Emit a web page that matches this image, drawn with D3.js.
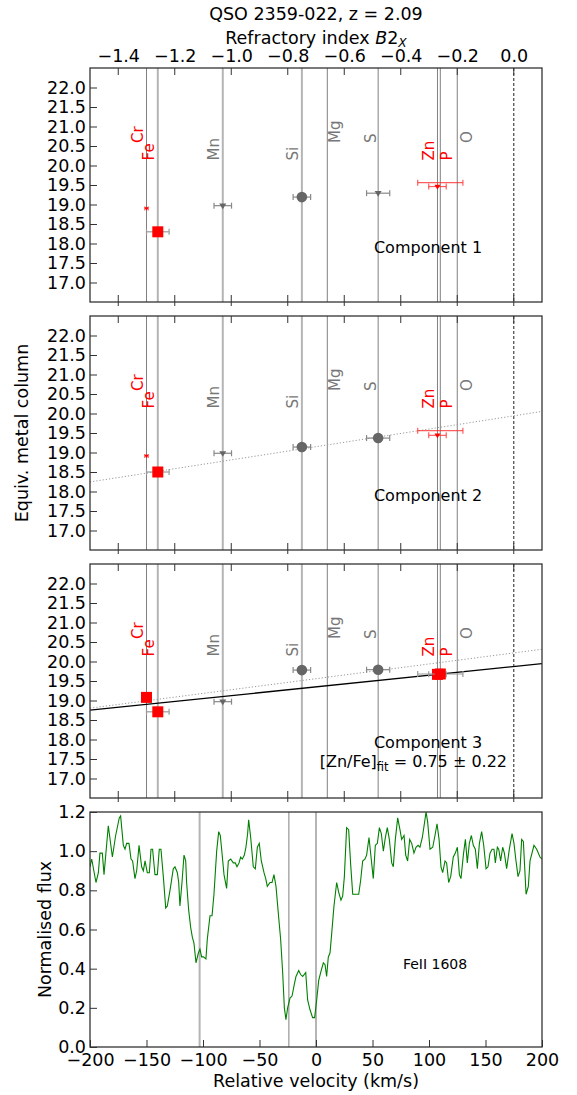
<!DOCTYPE html>
<html><head><meta charset="utf-8">
<script src="https://cdn.jsdelivr.net/npm/d3@7"></script>
<style>body{margin:0;background:#fff}svg{display:block;font-family:"DejaVu Sans",sans-serif}</style>
</head><body><svg id="c" width="577" height="1095"></svg>
<script>
// ---------------- DATA ----------------
const title = "QSO 2359-022, z = 2.09";
const elements = ["Cr","Fe","Mn","Si","Mg","S","Zn","P","O"];
const refractoryIndex = [-1.30,-1.26,-1.03,-0.75,-0.66,-0.48,-0.27,-0.26,-0.20];
const refractoryErr = [0.006,0.04,0.031,0.031,0,0.041,0.031,0.08,0];
const fitElements = ["Cr","Fe","Zn","P"];
const b2xTicks = [-1.4,-1.2,-1.0,-0.8,-0.6,-0.4,-0.2,0.0];
const columnTicks = [17.0,17.5,18.0,18.5,19.0,19.5,20.0,20.5,21.0,21.5,22.0];

const comp1Col  = [18.90,18.30,18.97,19.19,null,19.29,19.46,19.56,null];
const comp1Kind = ["lim","det","lim","det",null,"lim","lim","bar",null];
const comp2Col  = [18.91,18.50,18.98,19.14,null,19.37,19.44,19.56,null];
const comp2Kind = ["lim","det","lim","det",null,"det","lim","bar",null];
const comp3Col  = [19.08,18.71,18.97,19.78,null,19.79,19.67,19.68,null];
const comp3Kind = ["det","det","lim","det",null,"det","det","det",null];

const componentNames = ["Component 1","Component 2","Component 3"];
// fits: [intercept at B2x=0, slope]
const comp2DottedFit = [19.94,1.13];
const comp3DottedFit = [20.22,0.944];
const comp3SolidFit  = [19.87,0.744];
const fitResult = "0.75 ± 0.22";

const componentVel = [-103,-24,0];
const velTicks = [-200,-150,-100,-50,0,50,100,150,200];
const fluxTicks = [0.0,0.2,0.4,0.6,0.8,1.0,1.2];
const lineLabel = "FeII 1608";
const vel = [-200.0,-198.5,-194.7,-192.6,-191.2,-189.1,-187.6,-183.8,-180.2,-177.3,-174.1,-172.9,-170.5,-169.0,-167.6,-165.5,-163.7,-162.3,-160.2,-158.7,-156.6,-154.3,-152.8,-151.3,-149.3,-147.5,-146.0,-144.6,-142.5,-140.4,-138.7,-137.2,-135.1,-133.0,-131.6,-129.2,-126.3,-124.8,-122.7,-121.5,-120.4,-118.6,-116.8,-115.3,-114.5,-112.7,-110.9,-109.4,-108.0,-106.2,-104.1,-102.7,-101.2,-99.7,-97.4,-96.2,-93.8,-92.0,-90.3,-87.9,-86.1,-84.7,-83.5,-81.4,-79.1,-77.6,-75.5,-73.2,-71.4,-69.9,-68.1,-66.7,-65.2,-63.4,-62.0,-60.5,-59.6,-57.8,-55.5,-53.7,-51.9,-50.2,-48.4,-46.0,-44.5,-43.1,-40.7,-38.9,-37.2,-35.4,-33.0,-31.3,-29.5,-28.0,-26.6,-25.1,-23.0,-21.2,-19.2,-17.7,-15.3,-13.6,-11.8,-9.1,-7.4,-5.3,-3.0,-1.2,0.6,2.4,4.1,6.5,8.0,9.4,10.9,12.4,13.9,15.9,17.1,18.3,20.1,22.1,23.6,25.1,27.1,28.9,30.7,32.5,34.5,37.8,39.5,41.3,43.4,44.8,46.9,48.7,50.7,52.5,54.3,56.1,57.8,59.6,61.4,63.1,64.9,67.0,68.4,70.2,72.3,74.3,75.8,77.9,79.4,81.1,82.9,84.7,86.7,88.5,90.3,92.0,94.1,95.9,97.4,98.8,100.9,103.3,105.3,107.1,108.9,110.6,112.1,114.2,115.6,117.4,119.2,121.5,123.3,125.1,126.9,128.3,130.4,132.2,133.9,135.7,137.5,139.2,141.0,142.8,144.6,146.6,148.4,150.5,152.2,154.0,155.8,157.5,158.7,160.5,161.7,163.4,165.2,166.7,168.7,171.1,173.5,175.2,177.0,178.8,180.5,182.0,183.5,185.9,187.9,189.4,192.9,195.3,198.2,200.0];
const flux = [0.92,0.96,0.84,0.89,0.99,0.99,0.88,1.13,0.97,1.08,1.17,1.18,1.03,1.01,1.04,1.04,0.96,0.95,0.86,0.90,1.03,0.92,0.90,0.95,0.89,0.89,1.01,1.01,0.88,0.88,1.01,1.01,0.87,0.71,0.72,0.80,0.91,0.92,0.89,0.84,0.72,0.84,0.98,0.95,0.84,0.70,0.61,0.56,0.53,0.43,0.48,0.50,0.46,0.46,0.45,0.55,0.67,0.67,0.78,1.00,1.10,1.08,1.01,0.88,0.81,0.95,0.96,0.94,0.94,0.92,0.94,0.97,0.96,0.98,1.02,1.09,1.16,1.07,0.92,0.91,1.02,1.04,0.95,0.89,0.86,0.82,0.84,0.84,0.88,0.82,0.66,0.55,0.38,0.20,0.14,0.20,0.25,0.26,0.32,0.36,0.39,0.37,0.36,0.38,0.24,0.19,0.15,0.15,0.24,0.34,0.38,0.43,0.42,0.36,0.46,0.48,0.58,0.72,0.78,0.84,0.79,0.75,0.77,0.87,1.12,1.11,0.93,0.78,0.78,0.78,0.85,0.95,0.96,0.98,1.07,0.97,0.86,1.03,1.04,1.12,1.09,1.00,1.07,1.12,1.06,0.94,0.92,1.06,1.17,1.11,1.06,1.08,0.98,0.95,1.06,1.04,0.99,1.02,1.03,1.02,1.07,1.14,1.20,1.15,1.01,1.02,1.08,1.14,1.06,0.92,0.89,0.95,0.94,0.84,0.87,0.97,0.99,1.02,0.88,0.86,0.98,1.06,0.94,1.04,1.08,1.03,1.01,0.91,1.04,1.10,1.03,0.91,0.92,0.99,1.01,1.01,0.94,1.02,1.01,0.95,1.02,0.99,0.91,1.01,1.09,1.04,0.95,0.87,0.90,1.06,1.05,0.78,0.82,0.95,1.03,1.01,0.97,0.96];

// ---------------- LAYOUT / STYLE ----------------
const L = 90, R = 542;
const panelTops = [68,316,564], PH = 234;
const specTop = 812, specBot = 1047;
const FS = 17.5;
const RED = "#ff0000", GREY_TXT = "#777", MARK_GREY = "#666";
const thickLines = ["Fe","Mn","Si"];
const labelLayout = {Cr:[0,-9],Fe:[1,-8.5],Mn:[1,-9],Si:[1,-8.5],Mg:[0,8],S:[0,-7],Zn:[1,-8.5],P:[1,7],O:[0,9.5]};
const labelRowY = [20.58,20.13];

const svg = d3.select("#c");
const x = d3.scaleLinear().domain([-1.5,0.1]).range([L,R]);
const xv = d3.scaleLinear().domain([-200,200]).range([L,R]);
const yf = d3.scaleLinear().domain([0,1.2]).range([specBot,specTop]);

// title & top axis label
svg.append("text").attr("x",316).attr("y",20).attr("text-anchor","middle").attr("font-size",FS).text(title);
const tl = svg.append("text").attr("x",316).attr("y",44).attr("text-anchor","middle").attr("font-size",FS);
tl.append("tspan").text("Refractory index ");
tl.append("tspan").attr("font-style","italic").text("B");
tl.append("tspan").text("2");
tl.append("tspan").attr("font-style","italic").attr("font-size",FS*0.7).attr("dy",3).text("X");

const comps = [
  {col:comp1Col, kind:comp1Kind, fits:[]},
  {col:comp2Col, kind:comp2Kind, fits:[{f:comp2DottedFit,dot:true}]},
  {col:comp3Col, kind:comp3Kind, fits:[{f:comp3DottedFit,dot:true},{f:comp3SolidFit,dot:false}]}
];

comps.forEach((c,pi)=>{
  const top = panelTops[pi];
  const y = d3.scaleLinear().domain([16.5,22.5]).range([top+PH, top]);
  const g = svg.append("g");
  const clipId = "clip"+pi;
  svg.append("clipPath").attr("id",clipId).append("rect").attr("x",L).attr("y",top).attr("width",R-L).attr("height",PH);
  const inner = g.append("g").attr("clip-path",`url(#${clipId})`);
  elements.forEach((e,i)=>{
    const thick = thickLines.includes(e);
    inner.append("line").attr("x1",x(refractoryIndex[i])).attr("x2",x(refractoryIndex[i]))
      .attr("y1",top).attr("y2",top+PH)
      .attr("stroke",thick?"#b4b4b4":"#808080").attr("stroke-width",thick?2:1);
  });
  inner.append("line").attr("x1",x(0)).attr("x2",x(0)).attr("y1",top).attr("y2",top+PH)
    .attr("stroke","#444").attr("stroke-width",1.2).attr("stroke-dasharray","3,2");
  elements.forEach((e,i)=>{
    const [row,dx] = labelLayout[e];
    const tx = x(refractoryIndex[i])+dx, ty = y(labelRowY[row]);
    inner.append("text").attr("transform",`translate(${tx},${ty}) rotate(-90)`)
      .attr("dominant-baseline","central").attr("font-size",15)
      .attr("fill",fitElements.includes(e)?RED:GREY_TXT).text(e);
  });
  c.fits.forEach(ft=>{
    const [b,m] = ft.f;
    const d = x.domain();
    inner.append("line").attr("x1",x(d[0])).attr("y1",y(b+m*d[0])).attr("x2",x(d[1])).attr("y2",y(b+m*d[1]))
      .attr("stroke",ft.dot?"#999":"#000").attr("stroke-width",ft.dot?1:1.3)
      .attr("stroke-dasharray",ft.dot?"1.2,2":null);
  });
  elements.forEach((e,i)=>{
    const v = c.col[i]; if(v==null) return;
    const k = c.kind[i]; const isRed = fitElements.includes(e);
    const cx = x(refractoryIndex[i]), cy = y(v);
    const err = refractoryErr[i];
    const ecol = (isRed && k!=="det") ? "rgba(255,40,40,0.75)" : (isRed ? "#999" : "#888");
    if(err>0){
      const x1=x(refractoryIndex[i]-err), x2=x(refractoryIndex[i]+err);
      const cap = (e==="Cr")?2:3;
      inner.append("line").attr("x1",x1).attr("x2",x2).attr("y1",cy).attr("y2",cy).attr("stroke",ecol).attr("stroke-width",1.2);
      [x1,x2].forEach(xx=>inner.append("line").attr("x1",xx).attr("x2",xx).attr("y1",cy-cap).attr("y2",cy+cap).attr("stroke",ecol).attr("stroke-width",1.2));
    }
    if(k==="det"){
      if(isRed) inner.append("rect").attr("x",cx-5.5).attr("y",cy-5.5).attr("width",11).attr("height",11).attr("fill",RED);
      else inner.append("circle").attr("cx",cx).attr("cy",cy).attr("r",5.3).attr("fill",MARK_GREY);
    } else if(k==="lim"){
      const s = isRed ? (e==="Cr"?2:3) : 3.5;
      inner.append("path").attr("d",`M${cx-s},${cy-s*0.6}L${cx+s},${cy-s*0.6}L${cx},${cy+s}Z`).attr("fill",isRed?RED:MARK_GREY);
    }
  });
  g.append("text").attr("x",428).attr("y",pi===2?top+184:top+185).attr("text-anchor","middle")
    .attr("font-size",16).text(componentNames[pi]);
  if(pi===2){
    const t = g.append("text").attr("x",507).attr("y",top+203).attr("text-anchor","end").attr("font-size",16);
    t.append("tspan").text("[Zn/Fe]");
    t.append("tspan").attr("font-size",11.5).attr("dy",4).text("fit");
    t.append("tspan").attr("dy",-4).text(" = "+fitResult);
  }
  const ya = g.append("g").attr("transform",`translate(${L},0)`)
    .call(d3.axisLeft(y).tickValues(columnTicks).tickFormat(d3.format(".1f")).tickSizeInner(-7).tickSizeOuter(0).tickPadding(4));
  ya.select(".domain").remove();
  ya.selectAll("text").attr("font-size",FS).attr("font-family","DejaVu Sans");
  ya.selectAll("line").attr("stroke","#333");
  b2xTicks.forEach(t=>{
    g.append("line").attr("x1",x(t)).attr("x2",x(t)).attr("y1",top).attr("y2",top+7).attr("stroke","#333");
    g.append("line").attr("x1",x(t)).attr("x2",x(t)).attr("y1",top+PH-7).attr("y2",top+PH+4).attr("stroke","#333");
  });
  if(pi===0){
    const xa = g.append("g").attr("transform",`translate(0,${top})`)
      .call(d3.axisTop(x).tickValues(b2xTicks).tickFormat(d3.format(".1f")).tickSize(0).tickPadding(6));
    xa.select(".domain").remove();
    xa.selectAll("text").attr("font-size",FS).attr("font-family","DejaVu Sans");
  }
  g.append("rect").attr("x",L).attr("y",top).attr("width",R-L).attr("height",PH)
    .attr("fill","none").attr("stroke","#333").attr("stroke-width",1.3);
});

svg.append("text").attr("transform",`translate(22,${(panelTops[0]+panelTops[2]+PH)/2}) rotate(-90)`)
  .attr("text-anchor","middle").attr("dominant-baseline","central").attr("font-size",FS).text("Equiv. metal column");

// ---------------- SPECTRUM ----------------
const sg = svg.append("g");
svg.append("clipPath").attr("id","clipS").append("rect").attr("x",L).attr("y",specTop).attr("width",R-L).attr("height",specBot-specTop);
const si = sg.append("g").attr("clip-path","url(#clipS)");
componentVel.forEach((v,i)=>{
  const thick = i!==1;
  si.append("line").attr("x1",xv(v)).attr("x2",xv(v)).attr("y1",specTop).attr("y2",specBot)
    .attr("stroke",thick?"#b4b4b4":"#808080").attr("stroke-width",thick?2:1);
});
const spec = vel.map((v,i)=>[v,flux[i]]);
si.append("path").datum(spec).attr("fill","none").attr("stroke","#008000").attr("stroke-width",1.1)
  .attr("d",d3.line().x(d=>xv(d[0])).y(d=>yf(d[1])));
sg.append("text").attr("x",435).attr("y",969).attr("text-anchor","middle").attr("font-size",14).text(lineLabel);
const fya = sg.append("g").attr("transform",`translate(${L},0)`)
  .call(d3.axisLeft(yf).tickValues(fluxTicks).tickFormat(d3.format(".1f")).tickSizeInner(-7).tickSizeOuter(0).tickPadding(4));
fya.select(".domain").remove();
fya.selectAll("text").attr("font-size",FS).attr("font-family","DejaVu Sans");
fya.selectAll("line").attr("stroke","#333");
const fxa = sg.append("g").attr("transform",`translate(0,${specBot})`)
  .call(d3.axisBottom(xv).tickValues(velTicks).tickFormat(d3.format("d")).tickSizeInner(-7).tickSizeOuter(0).tickPadding(7));
fxa.select(".domain").remove();
fxa.selectAll("text").attr("font-size",FS).attr("font-family","DejaVu Sans");
fxa.selectAll("line").attr("stroke","#333");
sg.append("rect").attr("x",L).attr("y",specTop).attr("width",R-L).attr("height",specBot-specTop)
  .attr("fill","none").attr("stroke","#333").attr("stroke-width",1.3);
svg.append("text").attr("transform",`translate(45,${(specTop+specBot)/2}) rotate(-90)`)
  .attr("text-anchor","middle").attr("dominant-baseline","central").attr("font-size",FS).text("Normalised flux");
svg.append("text").attr("x",316).attr("y",1087).attr("text-anchor","middle").attr("font-size",FS).text("Relative velocity (km/s)");
</script></body></html>
